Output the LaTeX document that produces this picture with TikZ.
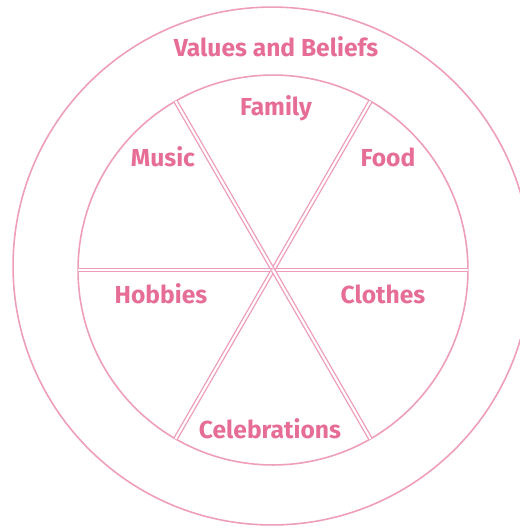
\documentclass[tikz,border=0pt]{standalone}
\usepackage{fontspec}
\setmainfont{Fira Sans}
\usepackage{tikz}
\usetikzlibrary{positioning}
\definecolor{ringpink}{HTML}{EE9DBB}
\definecolor{labelpink}{HTML}{E66D96}

\begin{document}
\begin{tikzpicture}[x=0.02cm, y=-0.02cm, every node/.style={font=\fontsize{14}{16}\selectfont\bfseries, text=labelpink},
  ring/.style={draw=ringpink, line width=0.9pt},
  spoke/.style={draw=ringpink, line width=0.75pt, double=white, double distance=1.2pt}]
			\useasboundingbox (0,0) rectangle (520,529);
			\coordinate (c) at (273,270);
			\coordinate (co) at (272,266);
			
			\draw[ring] (co) circle[radius=5.18cm];
			\draw[ring] (c) circle[radius=3.9cm];
			
			\foreach \a in {0,60,...,300}
				\path (c) ++(\a:3.9cm) coordinate (rim\a);
			\foreach \a in {0,60,...,300}
				\draw[spoke] (c) -- (rim\a);
			
			\node (values) at (276,47) {Values and Beliefs};
			\node (family) at (276,108) {Family};
			\node (music) at (163,157) {Music};
			\node (food) at (388,157) {Food};
			\node (hobbies) at (161,294) {Hobbies};
			\node (clothes) at (383,294) {Clothes};
			\node (celeb) at (270,429) {Celebrations};
		\end{tikzpicture}
\end{document}
